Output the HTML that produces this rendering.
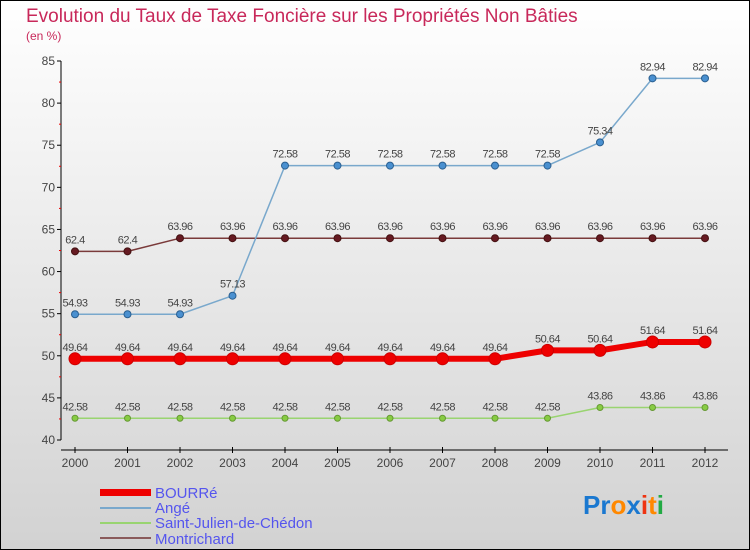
<!DOCTYPE html>
<html><head><meta charset="utf-8"><style>
html,body{margin:0;padding:0}
body{width:750px;height:550px;overflow:hidden;font-family:"Liberation Sans",sans-serif}
svg{display:block}
</style></head><body>
<svg id="chart" width="750" height="550" xmlns="http://www.w3.org/2000/svg">
<defs><linearGradient id="bg" x1="0" y1="0" x2="0" y2="1"><stop offset="0" stop-color="#ffffff"/><stop offset="1" stop-color="#d2d2d2"/></linearGradient></defs>
<rect x="0.5" y="0.5" width="749" height="549" fill="url(#bg)" stroke="#000"/>
<text x="26" y="22" font-size="19" fill="#c8285a">Evolution du Taux de Taxe Foncière sur les Propriétés Non Bâties</text>
<text x="26" y="40" font-size="12" fill="#c8285a">(en %)</text>
<g id="axes"></g>
<g id="series"></g>
<g>
<rect x="100" y="489" width="51" height="7" fill="#ee0000"/>
<text x="155" y="498" font-size="15" fill="#5555ee">BOURRé</text>
<line x1="100" y1="508" x2="151" y2="508" stroke="#79a8cc" stroke-width="2"/>
<text x="155" y="513" font-size="15" fill="#5555ee">Angé</text>
<line x1="100" y1="523" x2="151" y2="523" stroke="#99d470" stroke-width="2"/>
<text x="155" y="528" font-size="15" fill="#5555ee">Saint-Julien-de-Chédon</text>
<line x1="100" y1="538" x2="151" y2="538" stroke="#8a5a5a" stroke-width="2"/>
<text x="155" y="544" font-size="15" fill="#5555ee">Montrichard</text>
</g>
<text x="583" y="514" font-size="26" font-weight="bold"><tspan fill="#1a78d0">Pr</tspan><tspan fill="#ff8800">o</tspan><tspan fill="#1a78d0">x</tspan><tspan fill="#ee3311">i</tspan><tspan fill="#ff8800">t</tspan><tspan fill="#22aa44">i</tspan></text>
</svg>
<script>
const years=[2000,2001,2002,2003,2004,2005,2006,2007,2008,2009,2010,2011,2012];
const yTicks=[40,45,50,55,60,65,70,75,80,85];
const bourre=[49.64,49.64,49.64,49.64,49.64,49.64,49.64,49.64,49.64,50.64,50.64,51.64,51.64];
const ange=[54.93,54.93,54.93,57.13,72.58,72.58,72.58,72.58,72.58,72.58,75.34,82.94,82.94];
const stjulien=[42.58,42.58,42.58,42.58,42.58,42.58,42.58,42.58,42.58,42.58,43.86,43.86,43.86];
const montrichard=[62.4,62.4,63.96,63.96,63.96,63.96,63.96,63.96,63.96,63.96,63.96,63.96,63.96];
const NS="http://www.w3.org/2000/svg";
const xs=i=>75+i*52.5;
const ys=v=>440-(v-40)*(379/45);
function mk(p,tag,a){const e=document.createElementNS(NS,tag);for(const k in a)e.setAttribute(k,a[k]);p.appendChild(e);return e;}
const ax=document.getElementById('axes');
const yl=mk(ax,'line',{x1:61,y1:ys(85),x2:61,y2:440,stroke:'#000'});


yTicks.forEach(v=>{
  mk(ax,'line',{x1:57,y1:ys(v),x2:61,y2:ys(v),stroke:'#000'});
  if(v<85){const m=mk(ax,'line',{x1:59,y1:ys(v+2.5),x2:61,y2:ys(v+2.5),stroke:'#e00'});}
  const t=mk(ax,'text',{x:55,y:ys(v)+4,'font-size':12,'text-anchor':'end',fill:'#444'});
  
  
  t.textContent=v;
});
const xl=mk(ax,'line',{x1:61,y1:450,x2:728,y2:450,stroke:'#000'});


years.forEach((y,i)=>{
  mk(ax,'line',{x1:xs(i),y1:447,x2:xs(i),y2:453,stroke:'#000'});
  const t=mk(ax,'text',{x:xs(i),y:467,'font-size':12,'text-anchor':'middle',fill:'#444'});
  
  
  t.textContent=y;
});
const sg=document.getElementById('series');
function series(data,name,color,dot,width,r,dotStroke){
  const g=mk(sg,'g',{});
  
  
  const pl=mk(g,'polyline',{points:data.map((v,i)=>xs(i)+','+ys(v)).join(' '),fill:'none',stroke:color,'stroke-width':width,'stroke-linejoin':'round'});
  
  
  data.forEach((v,i)=>{
    const c=mk(g,'circle',{cx:xs(i),cy:ys(v),r:r,fill:dot,stroke:dotStroke,'stroke-width':1});
    
    
    const t=mk(g,'text',{x:xs(i),y:ys(v)-8,'font-size':11,'text-anchor':'middle',fill:'#444','letter-spacing':'-0.5'});
    
    
    t.textContent=v;
  });
}
series(stjulien,'saint-julien','#99d470','#88cc44',1.5,3,'#669933');
series(montrichard,'montrichard','#7a3a3a','#661a22',1.5,3.5,'#441111');
series(ange,'ange','#79a8cc','#4a90d0',1.5,3.5,'#2a5f90');
series(bourre,'bourre','#ee0000','#ee0000',6,6,'#cc0000');
</script>
</body></html>
